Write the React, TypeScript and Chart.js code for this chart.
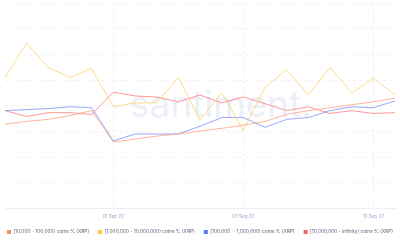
import React, { useEffect, useRef } from "react";
import { Chart, registerables } from "chart.js";

Chart.register(...registerables);

const dates = [
  "27 Aug 22", "28 Aug 22", "29 Aug 22", "30 Aug 22", "31 Aug 22",
  "01 Sep 22", "02 Sep 22", "03 Sep 22", "04 Sep 22", "05 Sep 22",
  "06 Sep 22", "07 Sep 22", "08 Sep 22", "09 Sep 22", "10 Sep 22",
  "11 Sep 22", "12 Sep 22", "13 Sep 22", "14 Sep 22",
];
const shownTicks = ["01 Sep 22", "07 Sep 22", "13 Sep 22"];

const small = [3.28, 3.39, 3.47, 3.62, 3.81, 2.59, 2.70, 2.82, 2.90, 3.01, 3.12, 3.24, 3.39, 3.66, 3.81, 3.92, 4.04, 4.15, 4.30];
const large = [5.10, 6.44, 5.49, 5.10, 5.45, 3.96, 4.11, 4.11, 5.10, 3.43, 4.50, 3.05, 4.72, 5.41, 4.42, 5.49, 4.50, 5.07, 4.42];
const medium = [3.81, 3.85, 3.89, 3.96, 3.92, 2.63, 2.90, 2.90, 2.90, 3.20, 3.54, 3.54, 3.16, 3.47, 3.54, 3.81, 3.96, 3.92, 4.19];
const whales = [3.81, 3.58, 3.73, 3.73, 3.66, 4.53, 4.38, 4.34, 4.15, 4.42, 4.11, 4.34, 4.08, 3.81, 3.96, 3.70, 3.81, 3.70, 3.73];

const seriesNames = [
  "[10,000 - 100,000) coins % (XRP)",
  "[1,000,000 - 10,000,000) coins % (XRP)",
  "[100,000  - 1,000,000) coins % (XRP)",
  "[10,000,000 - infinity) coins % (XRP)",
];

const FONT = "Inter, 'Open Sans', sans-serif";

const watermark = {
  id: "watermark",
  beforeDatasetsDraw(chart: any) {
    const { ctx } = chart;
    ctx.save();
    ctx.font = `37px ${FONT}`;
    ctx.fillStyle = "rgba(228,232,244,0.7)";
    ctx.textAlign = "center";
    ctx.textBaseline = "alphabetic";
    ctx.fillText("santiment.", 221, 117);
    ctx.restore();
  },
};

const bottomLegend = {
  id: "bottomLegend",
  afterDraw(chart: any) {
    const { ctx, width } = chart;
    const ds = chart.data.datasets;
    ctx.save();
    const box = 4, gapBox = 2.5, gap = 9, target = 387;
    ctx.font = `10px ${FONT}`;
    const t10 = ds.reduce((a: number, d: any) => a + ctx.measureText(d.label).width, 0);
    const fixed = ds.length * (box + gapBox) + gap * (ds.length - 1);
    const size = (10 * (target - fixed)) / t10;
    ctx.font = `${size}px ${FONT}`;
    ctx.textBaseline = "middle";
    ctx.textAlign = "left";
    const widths = ds.map((d: any) => box + gapBox + ctx.measureText(d.label).width);
    const total = widths.reduce((a: number, b: number) => a + b, 0) + gap * (ds.length - 1);
    let x = (width - total) / 2;
    const y = 232;
    ds.forEach((d: any, i: number) => {
      ctx.fillStyle = d.backgroundColor;
      ctx.fillRect(x, y - box / 2, box, box);
      ctx.fillStyle = "#5b6078";
      ctx.fillText(d.label, x + box + gapBox, y);
      x += widths[i] + gap;
    });
    ctx.restore();
  },
};

export default function App() {
  const ref = useRef<HTMLCanvasElement>(null);
  useEffect(() => {
    if (!ref.current) return;
    const mk = (label: string, data: number[], line: string, box: string) => ({
      label,
      data,
      borderColor: line,
      backgroundColor: box,
      borderWidth: 1,
      pointRadius: 0,
      tension: 0,
      fill: false,
    });
    const chart = new Chart(ref.current, {
      type: "line",
      data: {
        labels: dates,
        datasets: [
          mk(seriesNames[0], small, "rgba(255,160,130,0.8)", "#FF8A5C"),
          mk(seriesNames[1], large, "rgba(255,210,105,0.8)", "#FFC83D"),
          mk(seriesNames[2], medium, "rgba(125,145,255,0.8)", "#5A78FF"),
          mk(seriesNames[3], whales, "rgba(255,125,125,0.8)", "#FF5E5E"),
        ],
      },
      options: {
        animation: false,
        responsive: false,
        maintainAspectRatio: false,
        layout: { padding: { top: 3, left: 0, right: 1, bottom: 16 } },
        plugins: {
          tooltip: { enabled: false },
          legend: { display: false },
        },
        scales: {
          x: {
            offset: false,
            grid: {
              color: (ctx: any) =>
                ctx.tick && shownTicks.includes(dates[ctx.index]) ? "#eceef4" : "rgba(0,0,0,0)",
              drawTicks: false,
            },
            border: { display: true, color: "#eceef4", dash: [3, 3] },
            ticks: {
              autoSkip: false,
              maxRotation: 0,
              padding: 5,
              color: "#9aa5c8",
              font: { size: 4.6, family: FONT },
              callback: (_v: any, i: number) => (shownTicks.includes(dates[i]) ? dates[i] : ""),
            },
          },
          y: {
            min: 0,
            max: 8,
            ticks: { display: false, stepSize: 1 },
            grid: { color: "#eff1f6", drawTicks: false },
            border: { display: false, dash: [3, 3] },
          },
        },
      } as any,
      plugins: [watermark, bottomLegend],
    });
    return () => chart.destroy();
  }, []);
  return (
    <div style={{ position: "fixed", left: 0, top: 0, width: 400, height: 240, background: "#fff" }}>
      <canvas ref={ref} width={400} height={240} style={{ display: "block" }} />
    </div>
  );
}
